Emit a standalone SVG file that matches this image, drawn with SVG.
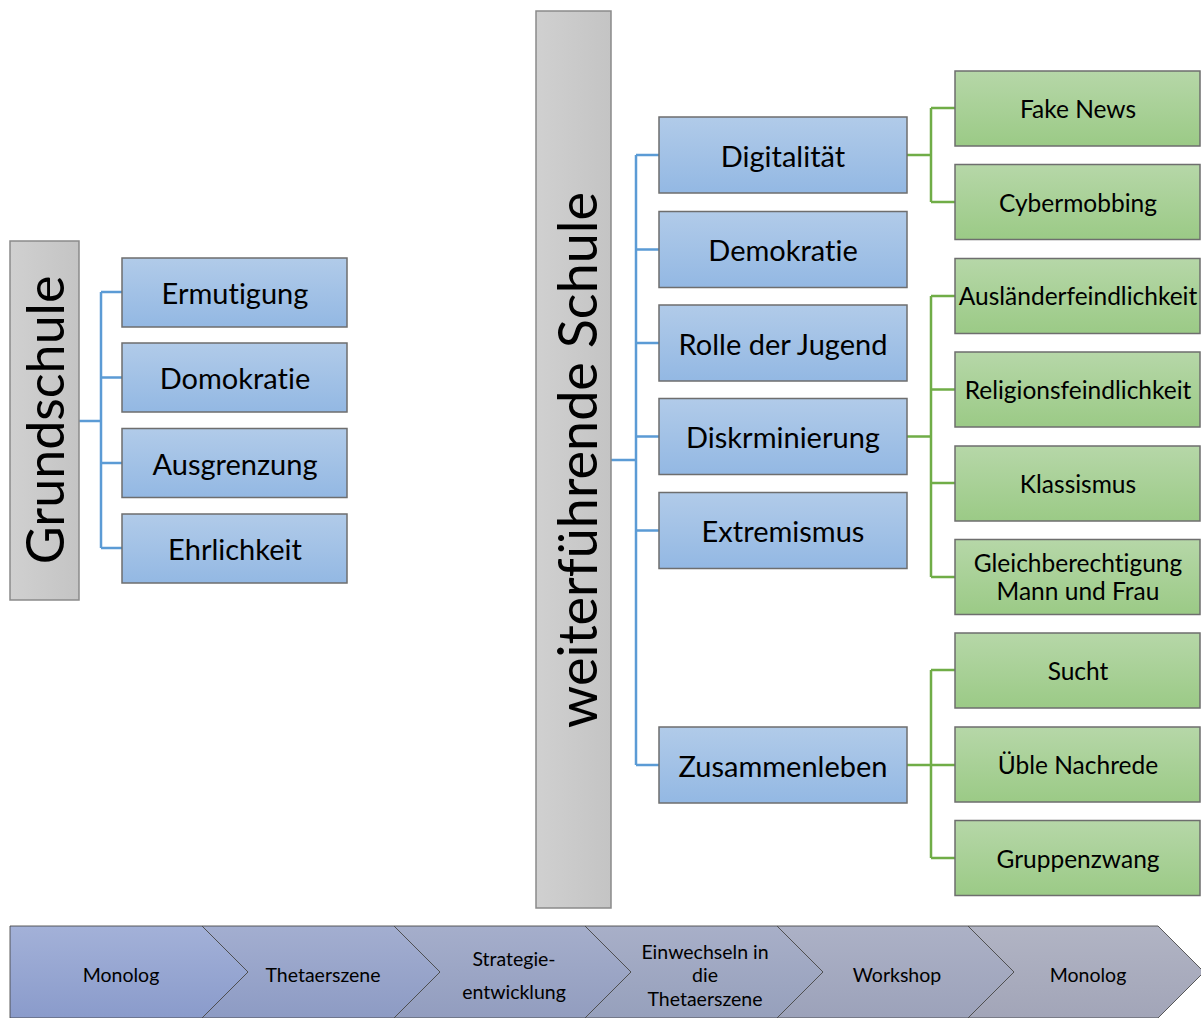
<svg xmlns="http://www.w3.org/2000/svg" width="1201" height="1018" viewBox="0 0 1201 1018">
  <defs>
    <linearGradient id="gBlue" x1="0" y1="0" x2="0" y2="1">
      <stop offset="0" stop-color="#b1cbe9"/>
      <stop offset="1" stop-color="#93b8e3"/>
    </linearGradient>
    <linearGradient id="gGreen" x1="0" y1="0" x2="0" y2="1">
      <stop offset="0" stop-color="#b6d7a8"/>
      <stop offset="1" stop-color="#9bca86"/>
    </linearGradient>
    <linearGradient id="gGray" x1="0" y1="0" x2="1" y2="0">
      <stop offset="0" stop-color="#d0d0d0"/>
      <stop offset="1" stop-color="#c4c4c4"/>
    </linearGradient>
    <linearGradient id="gC1" x1="0" y1="0" x2="0" y2="1"><stop offset="0" stop-color="#a3b1d8"/><stop offset="1" stop-color="#8a9bcb"/></linearGradient>
    <linearGradient id="gC2" x1="0" y1="0" x2="0" y2="1"><stop offset="0" stop-color="#a3aed0"/><stop offset="1" stop-color="#8d9bc4"/></linearGradient>
    <linearGradient id="gC3" x1="0" y1="0" x2="0" y2="1"><stop offset="0" stop-color="#a5aecb"/><stop offset="1" stop-color="#929dbf"/></linearGradient>
    <linearGradient id="gC4" x1="0" y1="0" x2="0" y2="1"><stop offset="0" stop-color="#a8afc8"/><stop offset="1" stop-color="#96a0bc"/></linearGradient>
    <linearGradient id="gC5" x1="0" y1="0" x2="0" y2="1"><stop offset="0" stop-color="#acb1c6"/><stop offset="1" stop-color="#9ca2ba"/></linearGradient>
    <linearGradient id="gC6" x1="0" y1="0" x2="0" y2="1"><stop offset="0" stop-color="#b1b4c4"/><stop offset="1" stop-color="#a2a5b8"/></linearGradient>
  </defs>
  <style>
    text { font-family: Lato, "Open Sans", "Liberation Sans", sans-serif; fill: #000; text-anchor: middle; dominant-baseline: central; font-variant-ligatures: none; font-feature-settings: "liga" 0, "dlig" 0; }
    .blue { fill: url(#gBlue); stroke: #6e6e6e; stroke-width: 1.5; }
    .green { fill: url(#gGreen); stroke: #6e6e6e; stroke-width: 1.5; }
    .gray { fill: url(#gGray); stroke: #8a8a8a; stroke-width: 1.5; }
    .big { font-size: 52px; }
    .big2 { font-size: 54px; }
    .lbl { font-size: 29px; }
    .sub { font-size: 24.5px; }
    .step { stroke: #4a4a4a; stroke-width: 0.9; }
    .stxt { font-size: 19.5px; }
    .cb { fill: none; stroke: #5b9bd5; stroke-width: 2.5; }
    .cg { fill: none; stroke: #70ad47; stroke-width: 2.5; }
  </style>

  <!-- connectors -->
  <g id="connectors">
    <path class="cb" d="M79 421 H101 M101 292 V548 M101 292 H122 M101 377.5 H122 M101 463 H122 M101 548 H122"/>
    <path class="cb" d="M611 460 H636 M636 155 V765 M636 155 H659 M636 249.5 H659 M636 343 H659 M636 436.5 H659 M636 530.5 H659 M636 765 H659"/>
    <path class="cg" d="M907 155 H931 M931 108 V202 M931 108 H955 M931 202 H955"/>
    <path class="cg" d="M907 436.5 H931 M931 296 V577 M931 296 H955 M931 389.5 H955 M931 483 H955 M931 577 H955"/>
    <path class="cg" d="M907 765 H931 M931 670 V858 M931 670 H955 M931 765 H955 M931 858 H955"/>
  </g>

  <!-- Grundschule -->
  <g id="grundschule">
    <rect class="gray" x="10" y="241" width="69" height="359"/>
    <text class="big" transform="translate(44 420) rotate(-90)">Grundschule</text>
  </g>
  <g id="ermutigung"><rect class="blue" x="122" y="258" width="225" height="69"/><text class="lbl" x="235" y="292">Ermutigung</text></g>
  <g id="domokratie"><rect class="blue" x="122" y="343" width="225" height="69"/><text class="lbl" x="235" y="377.5">Domokratie</text></g>
  <g id="ausgrenzung"><rect class="blue" x="122" y="428.5" width="225" height="69"/><text class="lbl" x="235" y="463">Ausgrenzung</text></g>
  <g id="ehrlichkeit"><rect class="blue" x="122" y="514" width="225" height="69"/><text class="lbl" x="235" y="548">Ehrlichkeit</text></g>

  <!-- Weiterführende Schule -->
  <g id="weiterfuehrende">
    <rect class="gray" x="536" y="11" width="75" height="897"/>
    <text class="big2" transform="translate(576 460) rotate(-90)">weiterführende Schule</text>
  </g>
  <g id="digitalitaet"><rect class="blue" x="659" y="117" width="248" height="76"/><text class="lbl" x="783" y="155">Digitalität</text></g>
  <g id="demokratie"><rect class="blue" x="659" y="211.5" width="248" height="76"/><text class="lbl" x="783" y="249.5">Demokratie</text></g>
  <g id="rolle"><rect class="blue" x="659" y="305" width="248" height="76"/><text class="lbl" x="783" y="343">Rolle der Jugend</text></g>
  <g id="diskrminierung"><rect class="blue" x="659" y="398.5" width="248" height="76"/><text class="lbl" x="783" y="436.5">Diskrminierung</text></g>
  <g id="extremismus"><rect class="blue" x="659" y="492.5" width="248" height="76"/><text class="lbl" x="783" y="530.5">Extremismus</text></g>
  <g id="zusammenleben"><rect class="blue" x="659" y="727" width="248" height="76"/><text class="lbl" x="783" y="765">Zusammenleben</text></g>

  <!-- sub-topics -->
  <g id="fakenews"><rect class="green" x="955" y="71" width="245" height="75"/><text class="sub" x="1078" y="108">Fake News</text></g>
  <g id="cybermobbing"><rect class="green" x="955" y="164.5" width="245" height="75"/><text class="sub" x="1078" y="202">Cybermobbing</text></g>
  <g id="auslaender"><rect class="green" x="955" y="258.5" width="245" height="75"/><text class="sub" x="1078" y="295">Ausländerfeindlichkeit</text></g>
  <g id="religion"><rect class="green" x="955" y="352" width="245" height="75"/><text class="sub" x="1078" y="389">Religionsfeindlichkeit</text></g>
  <g id="klassismus"><rect class="green" x="955" y="446" width="245" height="75"/><text class="sub" x="1078" y="483">Klassismus</text></g>
  <g id="gleichberechtigung"><rect class="green" x="955" y="539.5" width="245" height="75"/><text class="sub" x="1078" y="562">Gleichberechtigung</text><text class="sub" x="1078" y="590">Mann und Frau</text></g>
  <g id="sucht"><rect class="green" x="955" y="633" width="245" height="75"/><text class="sub" x="1078" y="670">Sucht</text></g>
  <g id="nachrede"><rect class="green" x="955" y="727" width="245" height="75"/><text class="sub" x="1078" y="764">Üble Nachrede</text></g>
  <g id="gruppenzwang"><rect class="green" x="955" y="820.5" width="245" height="75"/><text class="sub" x="1078" y="858">Gruppenzwang</text></g>

  <!-- process steps -->
  <g id="step1"><path class="step" fill="url(#gC1)" d="M10 926 H202 L248 972 L202 1018 H10 Z"/><text class="stxt" x="121" y="974">Monolog</text></g>
  <g id="step2"><path class="step" fill="url(#gC2)" d="M202 926 H394 L440 972 L394 1018 H202 L248 972 Z"/><text class="stxt" x="323" y="974">Thetaerszene</text></g>
  <g id="step3"><path class="step" fill="url(#gC3)" d="M394 926 H585 L631 972 L585 1018 H394 L440 972 Z"/><text class="stxt" x="514" y="958">Strategie-</text><text class="stxt" x="514" y="991">entwicklung</text></g>
  <g id="step4"><path class="step" fill="url(#gC4)" d="M585 926 H777 L823 972 L777 1018 H585 L631 972 Z"/><text class="stxt" x="705" y="951">Einwechseln in</text><text class="stxt" x="705" y="974">die</text><text class="stxt" x="705" y="998">Thetaerszene</text></g>
  <g id="step5"><path class="step" fill="url(#gC5)" d="M777 926 H968 L1014 972 L968 1018 H777 L823 972 Z"/><text class="stxt" x="897" y="974">Workshop</text></g>
  <g id="step6"><path class="step" fill="url(#gC6)" d="M968 926 H1158 L1204 972 L1158 1018 H968 L1014 972 Z"/><text class="stxt" x="1088" y="974">Monolog</text></g>
</svg>
